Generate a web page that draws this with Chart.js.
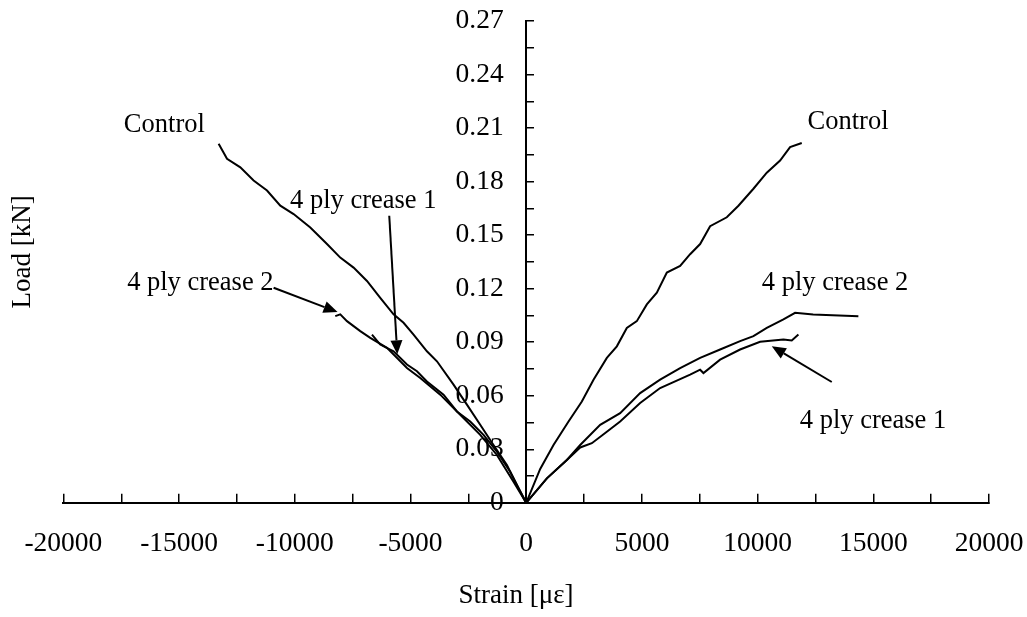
<!DOCTYPE html>
<html>
<head>
<meta charset="utf-8">
<script src="https://cdn.jsdelivr.net/npm/chart.js@4"></script>
<style>
  html, body { margin: 0; padding: 0; background: #fff; }
  #wrap { width: 1027px; height: 617px; position: relative; }
</style>
</head>
<body>
<div id="wrap"><canvas id="c"></canvas></div>
<script>
// ---- data (strain in microstrain, load in kN) ----
const controlRightStrain = [0, 605, 1180, 1829, 2405, 2909, 3485, 3917, 4348, 4780, 5213, 5645, 6078, 6652, 7084, 7516, 7948, 8669, 9172, 9820, 10397, 10972, 11404, 11908];
const controlRightLoad   = [0, 0.019, 0.0324, 0.0456, 0.0568, 0.069, 0.0812, 0.0877, 0.098, 0.1018, 0.1112, 0.1177, 0.129, 0.1327, 0.1393, 0.145, 0.155, 0.160, 0.1665, 0.176, 0.185, 0.1918, 0.1993, 0.2016];

const controlLeftStrain = [0, -333, -834, -1413, -1987, -2562, -3140, -3857, -4290, -4868, -5300, -5732, -6307, -6881, -7460, -8035, -8609, -9330, -10052, -10626, -11201, -11780, -12354, -12929, -13292];
const controlLeftLoad   = [0, 0.008, 0.0212, 0.0324, 0.0437, 0.055, 0.0662, 0.0793, 0.0849, 0.0943, 0.1009, 0.1056, 0.1149, 0.1243, 0.1318, 0.1374, 0.145, 0.1543, 0.1618, 0.1665, 0.175, 0.1806, 0.188, 0.1928, 0.2012];

const crease2RightStrain = [0, 893, 1757, 2333, 3197, 4060, 4924, 5788, 6652, 7516, 8380, 9244, 9820, 10397, 11116, 11620, 12400, 14355];
const crease2RightLoad   = [0, 0.0137, 0.024, 0.0324, 0.0437, 0.0502, 0.0615, 0.069, 0.0755, 0.0812, 0.0859, 0.0906, 0.0934, 0.098, 0.1028, 0.1065, 0.1055, 0.1046];

const crease1RightStrain = [0, 893, 1757, 2333, 2837, 3400, 4060, 4924, 5788, 7084, 7516, 7660, 8380, 9244, 10108, 11116, 11476, 11764];
const crease1RightLoad   = [0, 0.0137, 0.024, 0.031, 0.0334, 0.039, 0.0456, 0.0559, 0.0643, 0.0718, 0.0746, 0.0727, 0.0802, 0.0859, 0.0902, 0.0915, 0.091, 0.0943];

const crease2LeftStrain = [0, -549, -1266, -1987, -2851, -3715, -4579, -5153, -6017, -6739, -7171, -7745, -8035, -8251];
const crease2LeftLoad   = [0, 0.0118, 0.0268, 0.0381, 0.0493, 0.0606, 0.0699, 0.0755, 0.0868, 0.0924, 0.0962, 0.1018, 0.1056, 0.1046];

const crease1LeftStrain = [0, -691, -1266, -1845, -2419, -2994, -3572, -4290, -4721, -5153, -5732, -6307, -6665];
const crease1LeftLoad   = [0, 0.0174, 0.0287, 0.0381, 0.0456, 0.0512, 0.0606, 0.068, 0.0737, 0.0775, 0.0849, 0.0887, 0.0943];

// ---- ticks ----
const xTickValues = [-20000, -17500, -15000, -12500, -10000, -7500, -5000, -2500, 0, 2500, 5000, 7500, 10000, 12500, 15000, 17500, 20000];
const xTickLabels = ['-20000', '', '-15000', '', '-10000', '', '-5000', '', '0', '', '5000', '', '10000', '', '15000', '', '20000'];
const yTickValues = [0, 0.015, 0.03, 0.045, 0.06, 0.075, 0.09, 0.105, 0.12, 0.135, 0.15, 0.165, 0.18, 0.195, 0.21, 0.225, 0.24, 0.255, 0.27];
const yTickLabels = ['0', '', '0.03', '', '0.06', '', '0.09', '', '0.12', '', '0.15', '', '0.18', '', '0.21', '', '0.24', '', '0.27'];

// ---- annotations ----
const labelTexts   = ['Control', 'Control', '4 ply crease 1', '4 ply crease 2', '4 ply crease 2', '4 ply crease 1'];
const labelStrain  = [-15637, 13909, -7041, -14082, 13348, 14989];
const labelLoad    = [0.2115, 0.2132, 0.1693, 0.1232, 0.1232, 0.0456];
const arrowFromStrain = [-5918, -10916, 13205];
const arrowFromLoad   = [0.1609, 0.1205, 0.0677];
const arrowToStrain   = [-5572, -8151, 10613];
const arrowToLoad     = [0.0832, 0.1069, 0.0877];

const FONT = "'Liberation Serif', 'Times New Roman', serif";
Chart.defaults.font.family = FONT;
Chart.defaults.font.size = 27;
Chart.defaults.color = '#000';

const NB = '\u00a0';
function pts(xs, ys) { return xs.map((x, i) => ({x: x, y: ys[i]})); }
function series(label, xs, ys) {
  return { label: label, data: pts(xs, ys), borderColor: '#000', borderWidth: 2, pointRadius: 0, tension: 0, fill: false };
}

const annotationPlugin = {
  id: 'annotations',
  afterDatasetsDraw(chart) {
    const ctx = chart.ctx, xs = chart.scales.x, ys = chart.scales.y;
    ctx.save();
    ctx.fillStyle = '#000';
    ctx.strokeStyle = '#000';
    ctx.font = "26.5px " + FONT;
    ctx.textAlign = 'center';
    ctx.textBaseline = 'middle';
    labelTexts.forEach((t, i) => {
      ctx.fillText(t, xs.getPixelForValue(labelStrain[i]), ys.getPixelForValue(labelLoad[i]));
    });
    arrowFromStrain.forEach((_, i) => {
      const x1 = xs.getPixelForValue(arrowFromStrain[i]), y1 = ys.getPixelForValue(arrowFromLoad[i]);
      const x2 = xs.getPixelForValue(arrowToStrain[i]),   y2 = ys.getPixelForValue(arrowToLoad[i]);
      const ang = Math.atan2(y2 - y1, x2 - x1);
      const hl = 14, hw = 6;
      const bx = x2 - hl * Math.cos(ang), by = y2 - hl * Math.sin(ang);
      ctx.lineWidth = 2;
      ctx.beginPath(); ctx.moveTo(x1, y1); ctx.lineTo(bx, by); ctx.stroke();
      ctx.beginPath();
      ctx.moveTo(x2, y2);
      ctx.lineTo(bx + hw * Math.sin(ang), by - hw * Math.cos(ang));
      ctx.lineTo(bx - hw * Math.sin(ang), by + hw * Math.cos(ang));
      ctx.closePath(); ctx.fill();
    });
    ctx.restore();
  }
};

new Chart(document.getElementById('c'), {
  type: 'line',
  data: {
    datasets: [
      series('Control', controlRightStrain, controlRightLoad),
      series('Control', controlLeftStrain, controlLeftLoad),
      series('4 ply crease 2', crease2RightStrain, crease2RightLoad),
      series('4 ply crease 1', crease1RightStrain, crease1RightLoad),
      series('4 ply crease 2', crease2LeftStrain, crease2LeftLoad),
      series('4 ply crease 1', crease1LeftStrain, crease1LeftLoad)
    ]
  },
  options: {
    responsive: true,
    maintainAspectRatio: false,
    animation: false,
    layout: { padding: { left: 7, right: 38, top: 21, bottom: 0 } },
    plugins: { legend: { display: false }, tooltip: { enabled: false } },
    scales: {
      x: {
        type: 'linear', position: 'bottom', min: -20000, max: 20000,
        afterBuildTicks: s => { s.ticks = xTickValues.map(v => ({value: v})); },
        ticks: { autoSkip: false, maxRotation: 0, padding: 3, font: { size: 27.5, lineHeight: '94px' }, callback: (v, i) => xTickLabels[i] },
        grid: { drawOnChartArea: false, tickLength: -9, color: '#000', lineWidth: 1.5 },
        border: { color: '#000', width: 2 },
        title: { display: true, text: 'Strain [με]' + NB + NB + NB, padding: { top: -14.2, bottom: 5 } }
      },
      y: {
        type: 'linear', position: 'center', min: 0, max: 0.27,
        afterBuildTicks: s => { s.ticks = yTickValues.map(v => ({value: v})); },
        ticks: { autoSkip: false, padding: 4, font: { size: 27.5 }, callback: (v, i) => yTickLabels[i] ? yTickLabels[i] + NB + NB + NB + NB : '' },
        grid: { drawOnChartArea: false, tickLength: -9, color: '#000', lineWidth: 1.5 },
        border: { color: '#000', width: 2 }
      },
      yTitle: {
        type: 'linear', position: 'left', axis: 'y',
        ticks: { display: false },
        grid: { display: false, drawTicks: false },
        border: { display: false },
        title: { display: true, text: NB + NB + NB + 'Load [kN]', padding: { top: 0, bottom: 24 } }
      }
    }
  },
  plugins: [annotationPlugin]
});
</script>
</body>
</html>
